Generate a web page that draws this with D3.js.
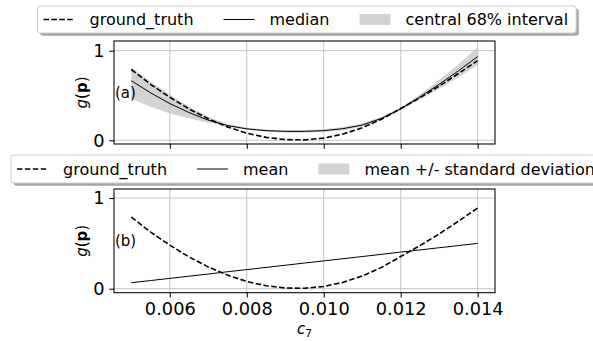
<!DOCTYPE html>
<html>
<head>
<meta charset="utf-8">
<script src="https://cdn.jsdelivr.net/npm/d3@7"></script>
<style>
  body { margin: 0; background: #fff; }
  svg { display: block; }
  text { font-family: "DejaVu Sans", sans-serif; fill: #000; }
</style>
</head>
<body>
<svg id="chart" width="593" height="341"></svg>
<script>
// Parameter c7 sampled across its range
const c7 = [0.0050, 0.0055, 0.0060, 0.0065, 0.0070, 0.0075, 0.0080, 0.0085, 0.0090, 0.0095,
            0.0100, 0.0105, 0.0110, 0.0115, 0.0120, 0.0125, 0.0130, 0.0135, 0.0140];

// True response g(p)
const groundTruth = [0.790, 0.625, 0.480, 0.350, 0.240, 0.150, 0.080, 0.033, 0.008, 0.005,
                     0.025, 0.070, 0.140, 0.235, 0.355, 0.475, 0.605, 0.745, 0.890];

// (a) posterior median and central 68% interval
const medianVals = [0.665, 0.530, 0.410, 0.310, 0.225, 0.165, 0.128, 0.108, 0.100, 0.100,
                    0.108, 0.130, 0.170, 0.245, 0.350, 0.485, 0.625, 0.775, 0.935];
const lower68 = [0.460, 0.375, 0.300, 0.245, 0.195, 0.152, 0.118, 0.097, 0.086, 0.085,
                 0.092, 0.112, 0.152, 0.228, 0.335, 0.455, 0.575, 0.700, 0.840];
const upper68 = [0.815, 0.655, 0.510, 0.375, 0.262, 0.183, 0.140, 0.120, 0.113, 0.114,
                 0.123, 0.148, 0.188, 0.262, 0.365, 0.510, 0.675, 0.850, 1.040];

// (b) mean and standard deviation
const meanVals = [0.066, 0.090, 0.114, 0.138, 0.162, 0.187, 0.211, 0.235, 0.259, 0.283,
                  0.307, 0.331, 0.355, 0.379, 0.404, 0.428, 0.452, 0.476, 0.500];
const stdVals = [0, 0, 0, 0, 0, 0, 0, 0, 0, 0, 0, 0, 0, 0, 0, 0, 0, 0, 0];

const xTicks = [0.006, 0.008, 0.010, 0.012, 0.014];
const yTicks = [0, 1];

const legendA = ["ground_truth", "median", "central 68% interval"];
const legendB = ["ground_truth", "mean", "mean +/- standard deviation"];
const panelTags = ["(a)", "(b)"];

const svg = d3.select("#chart");
const GRID = "#c4c4c4";
const BAND = "#d3d3d3";
const DASH = "5.5,2.4";
const TICK = 4.7;

const x = d3.scaleLinear().domain([0.00455, 0.01445]).range([114, 495]);

function drawPanel(top, bottom, yDomain, opts) {
  const y = d3.scaleLinear().domain(yDomain).range([bottom, top]);
  const g = svg.append("g");
  const [x0, x1] = x.range();
  const yb = bottom, yt = top;

  // shaded band
  const band = d3.area()
    .x((d, i) => x(c7[i]))
    .y0((d, i) => y(opts.lo[i]))
    .y1((d, i) => y(opts.hi[i]));
  g.append("path").datum(c7).attr("d", band).attr("fill", BAND).attr("stroke", "none");

  // grid
  g.append("g").selectAll("line").data(xTicks).join("line")
    .attr("x1", d => x(d)).attr("x2", d => x(d))
    .attr("y1", yt).attr("y2", yb)
    .attr("stroke", GRID).attr("stroke-width", 1);
  g.append("g").selectAll("line").data(yTicks).join("line")
    .attr("x1", x0).attr("x2", x1)
    .attr("y1", d => y(d)).attr("y2", d => y(d))
    .attr("stroke", GRID).attr("stroke-width", 1);

  const line = vals => d3.line().x((d, i) => x(c7[i])).y((d, i) => y(vals[i]))(c7);

  g.append("path").attr("d", line(opts.center))
    .attr("fill", "none").attr("stroke", "#000").attr("stroke-width", 1);
  g.append("path").attr("d", line(groundTruth))
    .attr("fill", "none").attr("stroke", "#000").attr("stroke-width", 1.6)
    .attr("stroke-dasharray", DASH);

  // frame
  g.append("rect").attr("x", x0).attr("y", yt)
    .attr("width", x1 - x0).attr("height", yb - yt)
    .attr("fill", "none").attr("stroke", "#000").attr("stroke-width", 1.05);

  // axes
  const xa = d3.axisBottom(x).tickValues(xTicks).tickSize(TICK).tickSizeOuter(0).tickPadding(4.7)
    .tickFormat(opts.xLabels ? d3.format(".3f") : () => "");
  const xg = g.append("g").attr("transform", `translate(0,${yb})`).call(xa);
  xg.select(".domain").remove();
  xg.selectAll(".tick line").attr("stroke", "#000").attr("stroke-width", 1.05);
  xg.selectAll(".tick text").attr("font-size", 17.8).attr("font-family", "DejaVu Sans").attr("fill", "#000");

  const ya = d3.axisLeft(y).tickValues(yTicks).tickSize(TICK).tickSizeOuter(0).tickPadding(4.7)
    .tickFormat(d3.format("d"));
  const yg = g.append("g").attr("transform", `translate(${x0},0)`).call(ya);
  yg.select(".domain").remove();
  yg.selectAll(".tick line").attr("stroke", "#000").attr("stroke-width", 1.05);
  yg.selectAll(".tick text").attr("font-size", 17.8).attr("font-family", "DejaVu Sans").attr("fill", "#000");

  // y label g(p)
  const cy = (yt + yb) / 2;
  const lab = g.append("text")
    .attr("transform", `translate(87,${cy}) rotate(-90)`)
    .attr("text-anchor", "middle").attr("font-size", 15);
  lab.append("tspan").attr("font-style", "italic").text("g");
  lab.append("tspan").text("(");
  lab.append("tspan").attr("font-weight", "bold").text("p");
  lab.append("tspan").text(")");

  // panel tag
  g.append("text").attr("x", 115).attr("y", opts.tagY).attr("font-size", 15).text(opts.tag);
}

function legend(left, top, h, labels, cs) {
  const g = svg.append("g");
  const fs = 16, hl = 31, htp = 15, padL = 6, padR = 8;
  const cy = top + h / 2;
  const shadow = g.append("rect");
  const box = g.append("rect");
  let cx = left + padL;
  labels.forEach((lab, i) => {
    if (i === 0) {
      g.append("line").attr("x1", cx).attr("x2", cx + hl).attr("y1", cy).attr("y2", cy)
        .attr("stroke", "#000").attr("stroke-width", 1.6).attr("stroke-dasharray", DASH);
    } else if (i === 1) {
      g.append("line").attr("x1", cx).attr("x2", cx + hl).attr("y1", cy).attr("y2", cy)
        .attr("stroke", "#000").attr("stroke-width", 1);
    } else {
      g.append("rect").attr("x", cx).attr("y", cy - 5.5).attr("width", hl).attr("height", 11)
        .attr("fill", BAND);
    }
    cx += hl + htp;
    const t = g.append("text").attr("x", cx).attr("y", cy + 5.7).attr("font-size", fs).text(lab);
    cx += t.node().getComputedTextLength();
    if (i < labels.length - 1) cx += cs;
  });
  const w = cx + padR - left;
  shadow.attr("x", left + 2.7).attr("y", top + 2.7).attr("width", w).attr("height", h)
    .attr("rx", 3).attr("fill", "#4d4d4d").attr("opacity", 0.5);
  box.attr("x", left).attr("y", top).attr("width", w).attr("height", h)
    .attr("rx", 3).attr("fill", "#fff").attr("stroke", "#cccccc").attr("stroke-width", 1);
}

drawPanel(41, 144, [-0.041, 1.108],
  { lo: lower68, hi: upper68, center: medianVals, xLabels: false, tag: panelTags[0], tagY: 97.5 });

const meanLo = meanVals.map((m, i) => m - stdVals[i]);
const meanHi = meanVals.map((m, i) => m + stdVals[i]);
drawPanel(189, 292.7, [-0.044, 1.1],
  { lo: meanLo, hi: meanHi, center: meanVals, xLabels: true, tag: panelTags[1], tagY: 246 });

// x label c_7
const xl = svg.append("text").attr("x", 304.5).attr("y", 334)
  .attr("text-anchor", "middle").attr("font-size", 15);
xl.append("tspan").attr("font-style", "italic").text("c");
xl.append("tspan").attr("font-size", 10.5).attr("dy", 2.5).text("7");

legend(37.5, 6, 27, legendA, 30);
legend(11, 155, 28, legendB, 30);
</script>
</body>
</html>
